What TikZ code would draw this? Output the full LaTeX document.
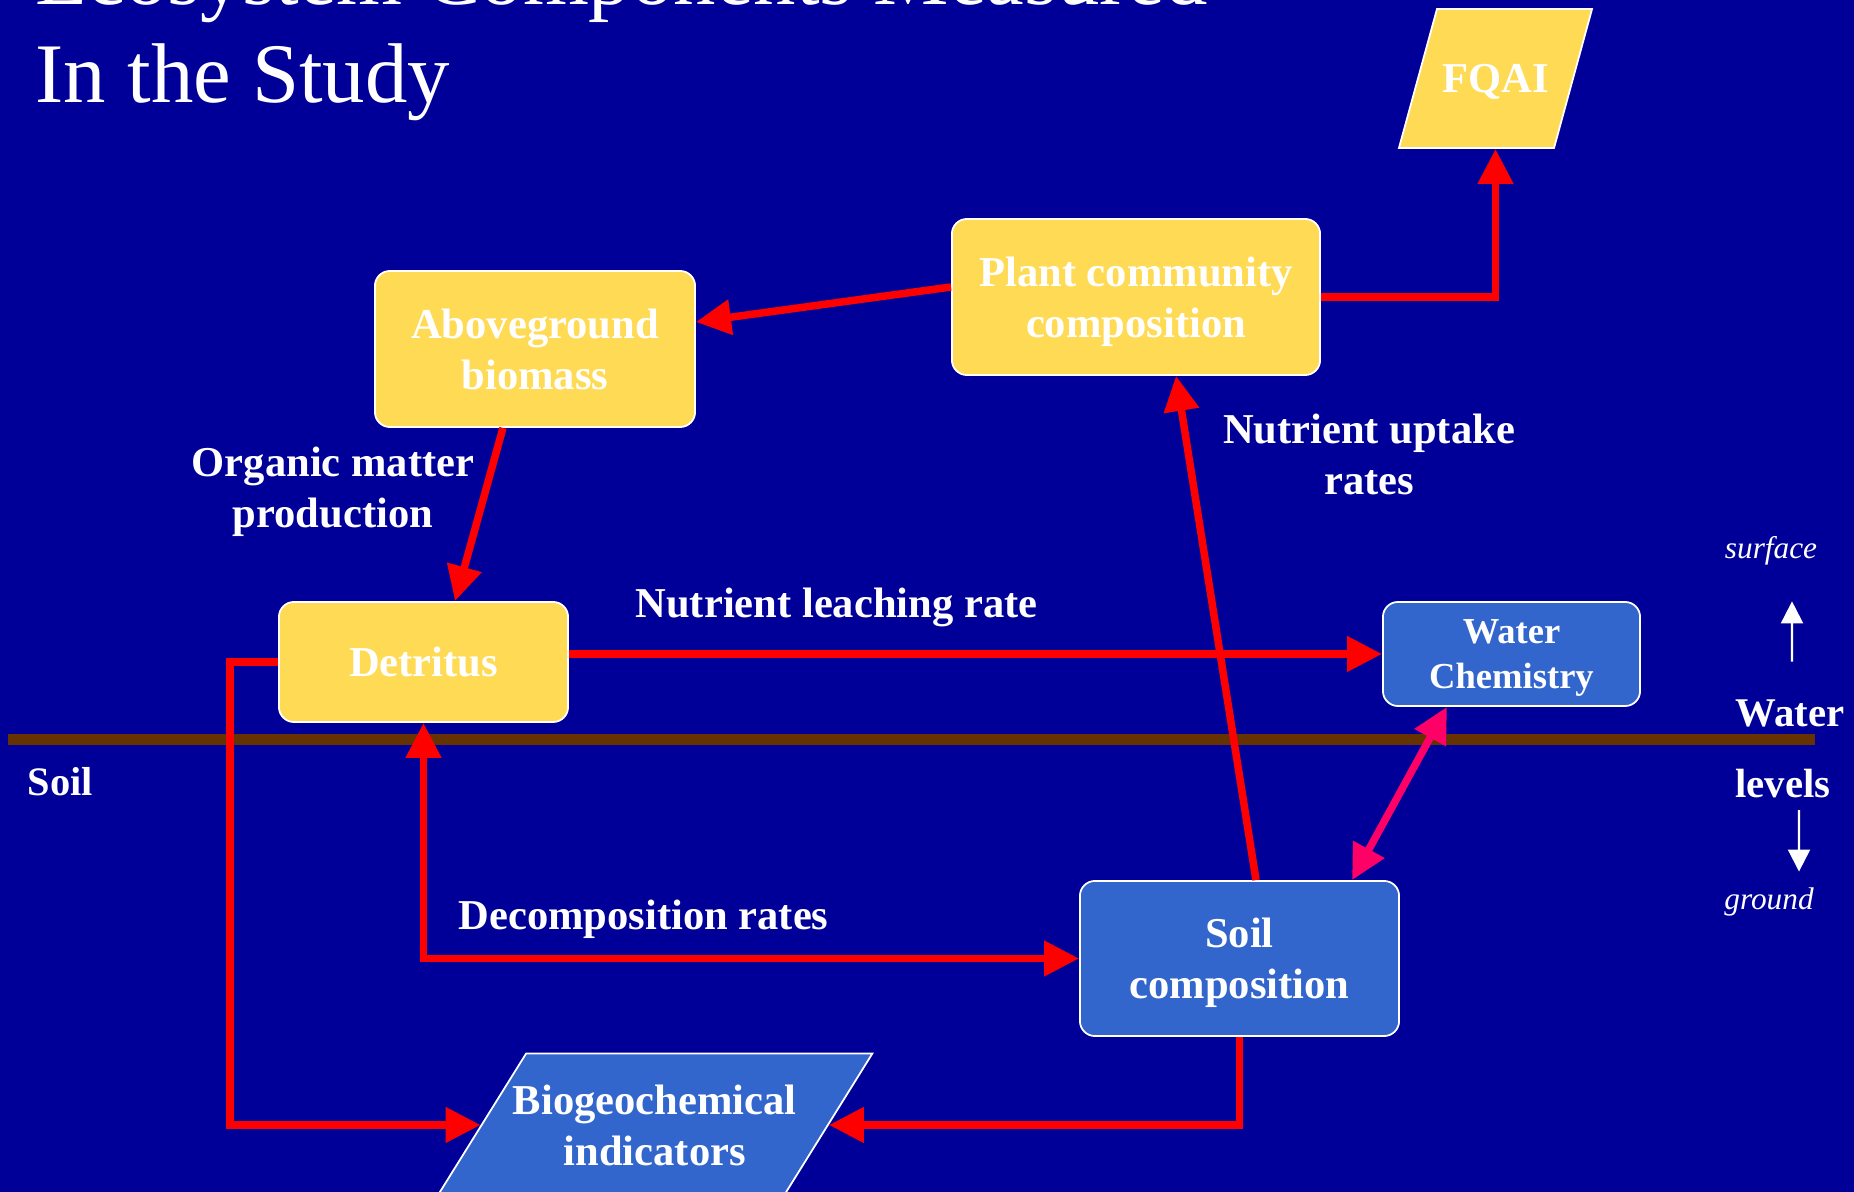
\documentclass[tikz,border=0pt]{standalone}
\usepackage{fontspec}
\setmainfont{Liberation Serif}
\usetikzlibrary{arrows.meta}
\usetikzlibrary{shapes.geometric}

\definecolor{slidebg}{HTML}{000099}
\definecolor{boxyellow}{HTML}{FFDB55}
\definecolor{boxblue}{HTML}{3366CC}
\definecolor{soilbrown}{HTML}{663300}
\definecolor{linkpink}{HTML}{FF0066}

\newcommand{\lblfont}{\bfseries\fontsize{12.1}{14.5}\selectfont}

\begin{document}
\begin{tikzpicture}[x=0.01cm,y=-0.01cm,
  ybox/.style={draw=white, line width=0.5pt, fill=boxyellow, rounded corners=1.5mm, text=white, font=\lblfont, align=center, inner sep=0pt, text depth=0pt},
  bbox/.style={ybox, fill=boxblue},
  para/.style={trapezium, trapezium stretches body, draw=white, line width=0.5pt, text=white, font=\lblfont, align=center, inner sep=0pt},
  arr/.style={red, line width=0.75mm, >={Triangle[length=3.5mm,width=3.4mm]}, ->},
  tag/.style={text=white, font=\lblfont, align=center, inner sep=0pt},
  wlevel/.style={white, line width=0.6pt, -{Triangle[length=2.2mm,width=2.2mm]}}]

\useasboundingbox (0,0) rectangle (1854,1192);
\clip (0,0) rectangle (1854,1192);
\fill[slidebg] (0,0) rectangle (1854,1192);

% title, cut at the top edge
\node[anchor=base west, text=white, inner sep=0pt, font=\fontsize{24.1}{29}\selectfont] (title1) at (35,5) {Ecosystem Components Measured};
\node[anchor=base west, text=white, inner sep=0pt, font=\fontsize{24.1}{29}\selectfont] (title2) at (35,103) {In the Study};

% soil line
\draw[soilbrown, line width=1.1mm] (8,740) -- (1815,740);

\node[ybox, minimum width=3.68cm, minimum height=1.56cm] (plant) at (1136,297) {Plant community\\composition};
\node[ybox, minimum width=3.2cm, minimum height=1.56cm] (above) at (535,349) {Aboveground\\biomass};
\node[ybox, minimum width=2.89cm, minimum height=1.2cm] (detritus) at (423.5,662) {Detritus};
\node[bbox, minimum width=2.57cm, minimum height=1.04cm, font=\bfseries\fontsize{10.4}{12.8}\selectfont] (waterchem) at (1511.5,654) {Water\\Chemistry};
\node[bbox, minimum width=3.19cm, minimum height=1.55cm] (soilcomp) at (1239.5,958.5) {Soil\\composition};
\node[para, fill=boxyellow, trapezium left angle=74.7, trapezium right angle=105.3, minimum width=1.93cm, text height=0.835cm, text depth=0.555cm] (fqai) at (1495.5,78.5) {FQAI};
\node[para, fill=boxblue, inner xsep=-1.5mm, inner ysep=0.31cm, trapezium left angle=58.1, trapezium right angle=121.9, minimum width=4.35cm] (biogeo) at (654.75,1125) {Biogeochemical\\indicators};

\node[tag] (organic) at (333,492) {Organic matter\\production};
\node[tag, anchor=base] (leaching) at (836.5,618) {Nutrient leaching rate};
\node[tag] (uptake) at (1369,454) {Nutrient uptake\\rates};
\node[tag, anchor=base] (decomp) at (643.5,930) {Decomposition rates};
\node[tag, anchor=base, font=\bfseries\fontsize{11.5}{14}\selectfont] (soil) at (60.5,796) {Soil};

% water levels
\node[tag, anchor=base, font=\bfseries\fontsize{11.6}{14}\selectfont] (water) at (1790,727) {Water};
\node[tag, anchor=base, font=\bfseries\fontsize{11.6}{14}\selectfont] (levels) at (1783,798) {levels};
\node[tag, anchor=base, font=\itshape\fontsize{8.9}{11}\selectfont] (surface) at (1771,559) {surface};
\node[tag, anchor=base, font=\itshape\fontsize{8.9}{11}\selectfont] (ground) at (1769,910) {ground};
\draw[wlevel] ([xshift=0.02cm,yshift=0.38cm]water.north) -- ([xshift=0.21cm,yshift=-0.35cm]surface.south);
\draw[wlevel] ([xshift=0.16cm,yshift=-0.11cm]levels.south) -- ([xshift=0.3cm,yshift=0.16cm]ground.north);

\draw[arr] ([yshift=1mm]plant.west) -- ([yshift=2.7mm]above.east);
\draw[arr] ([xshift=-3.2mm]above.south) -- ([xshift=3.15mm]detritus.north);
\draw[arr] (plant.east) -| (fqai.south);
\draw[arr] (detritus.east |- waterchem.west) -- (waterchem.west);
\draw[arr] ([xshift=1.65mm]soilcomp.north) -- ([xshift=4mm]plant.south);
\draw[arr, linkpink, <->] ([xshift=-6.45mm]waterchem.south) -- ([xshift=11.25mm]soilcomp.north);
\draw[arr, <->] (detritus.south) |- (soilcomp.west);
\draw[arr] (detritus.west) -- ++(-48,0) |- (biogeo.west);
\draw[arr] (soilcomp.south) |- (biogeo.east);

\end{tikzpicture}
\end{document}
